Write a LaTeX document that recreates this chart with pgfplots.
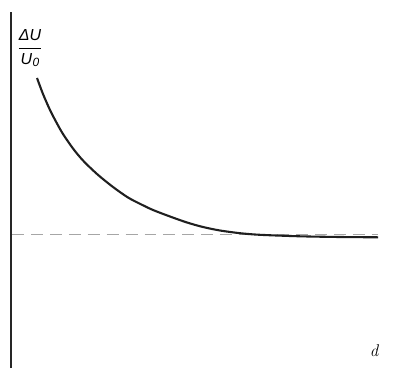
\documentclass[border=0pt]{standalone}
\usepackage{amsmath}
\usepackage{fontspec}
\usepackage{pgfplots}
\pgfplotsset{compat=1.18}
\newfontfamily\lab{Liberation Sans}
\begin{document}
\begin{tikzpicture}
\begin{axis}[
  scale only axis, width=395bp, height=368bp,
  xmin=0, xmax=395, ymin=0, ymax=368,
  axis lines=none, clip=false,
]
% frame extent (invisible)
\addplot[draw=none] coordinates {(0,0) (395,368)};
% vertical axis
\addplot[black!85, line width=1.2pt] coordinates {(11,0) (11,356)};
% dashed asymptote
\addplot[gray!70, line width=0.7pt, dash pattern=on 12pt off 7pt] coordinates {(12,134) (378,134)};
% curve (y = 368 - pixel y)
\addplot[black!88, line width=2.1pt, smooth] coordinates {
(37,290) (43,274) (50,258) (57,244.5) (63,234) (73,219.5) (83,207.5) (97,194)
(113,181) (128,170.5) (140,164.2) (153,158) (170,151.5) (187,145.5) (203,141)
(220,137.5) (240,134.8) (260,133.2) (300,131.7) (340,131) (378,130.7)
};
\node[anchor=center, inner sep=0pt] at (axis cs:30,320)
  {\fontsize{16}{18}\selectfont$\genfrac{}{}{0.6pt}{0}{\text{\lab\itshape ΔU}}{\text{\lab\itshape U\kern0.5pt\raisebox{-2pt}{\fontsize{12}{12}\selectfont 0}}}$};
\node[anchor=center, font=\fontsize{17}{20}\selectfont\itshape, inner sep=0pt] at (axis cs:374,17) {d};
\end{axis}
\end{tikzpicture}
\end{document}
